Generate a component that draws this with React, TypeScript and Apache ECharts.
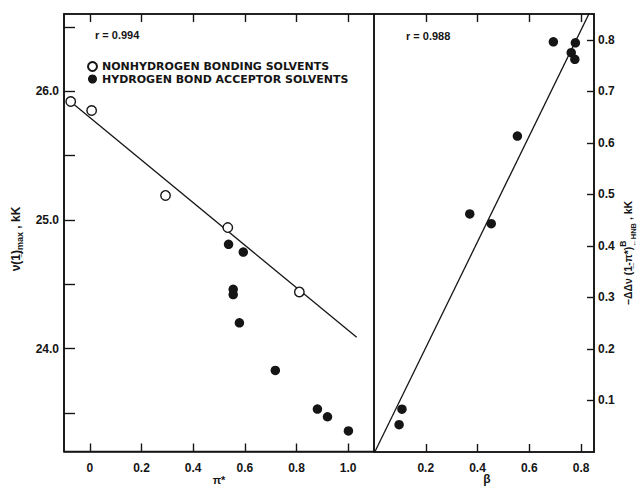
import React, { useEffect, useRef } from "react";
import * as echarts from "echarts";

// ---- data ----
const piTicks = [0, 0.2, 0.4, 0.6, 0.8, 1.0];
const nuMinorTicks = [23.5, 24.0, 24.5, 25.0, 25.5, 26.0, 26.5];
const nuLabels = [24.0, 25.0, 26.0];
const betaTicks = [0.2, 0.4, 0.6, 0.8];
const deltaTicks = [0.1, 0.2, 0.3, 0.4, 0.5, 0.6, 0.7, 0.8];

const nonHBondPi = [-0.074, 0.007, 0.293, 0.534, 0.811];
const nonHBondNu = [25.92, 25.85, 25.19, 24.94, 24.44];

const hbaPi = [0.537, 0.594, 0.555, 0.555, 0.579, 0.718, 0.881, 0.92, 1.001];
const hbaNu = [24.81, 24.75, 24.46, 24.42, 24.2, 23.83, 23.53, 23.47, 23.36];

const fitPi = [-0.06, 1.033];
const fitNu = [25.895, 24.087];

const hbaBeta = [0.693, 0.778, 0.762, 0.776, 0.554, 0.37, 0.453, 0.108, 0.097];
const hbaDelta = [0.796, 0.794, 0.775, 0.762, 0.613, 0.462, 0.443, 0.083, 0.053];

const fitBeta = [0.003, 0.835];
const fitDelta = [0.0, 0.855];

const legendNames = ["NONHYDROGEN BONDING SOLVENTS", "HYDROGEN BOND ACCEPTOR SOLVENTS"];

const INK = "#151515";
const NUM_FONT = "Liberation Sans";

function zip(a: number[], b: number[]) {
  return a.map((v, i) => [v, b[i]]);
}

function measure(text: string, size: number) {
  const ctx = document.createElement("canvas").getContext("2d") as CanvasRenderingContext2D;
  ctx.font = `bold ${size}px "${NUM_FONT}"`;
  return ctx.measureText(text).width;
}

type Part = { t: string; size: number; dy: number };

function rotatedName(cx: number, cy: number, parts: Part[]) {
  const widths = parts.map((p) => measure(p.t, p.size));
  const xs: number[] = [];
  let x = 0;
  let total = 0;
  for (let i = 0; i < parts.length; i++) {
    const p = parts[i];
    const prev = parts[i - 1];
    if (prev && prev.dy < 0 && p.dy > 0) {
      xs.push(xs[i - 1]);
      x = xs[i - 1] + Math.max(widths[i], widths[i - 1]);
    } else {
      xs.push(x);
      x += widths[i];
    }
    total = Math.max(total, x);
  }
  return {
    type: "group",
    x: cx,
    y: cy,
    rotation: Math.PI / 2,
    children: parts.map((p, i) => ({
      type: "text",
      x: xs[i] - total / 2,
      y: p.dy,
      style: {
        text: p.t,
        font: `bold ${p.size}px "${NUM_FONT}"`,
        fill: INK,
        align: "left",
        verticalAlign: "middle",
      },
    })),
  };
}

const tickLabelStyle = {
  color: INK,
  fontFamily: NUM_FONT,
  fontWeight: "bold" as const,
  fontSize: 12,
};

export default function App() {
  const ref = useRef<HTMLDivElement>(null);
  useEffect(() => {
    if (!ref.current) return;
    const chart = echarts.init(ref.current, undefined, { renderer: "svg" });
    const axisLine = { show: true, onZero: false, lineStyle: { color: INK, width: 1.6 } };
    const tickLine = { color: INK, width: 1.4 };
    const option: any = {
      animation: false,
      backgroundColor: "#fff",
      grid: [
        { left: 64, top: 14, width: 310, height: 443, show: true, borderColor: INK, borderWidth: 1.6 },
        { left: 374, top: 14, width: 220, height: 443, show: true, borderColor: INK, borderWidth: 1.6 },
      ],
      xAxis: [
        {
          gridIndex: 0,
          type: "value",
          min: -0.1,
          max: 1.1,
          position: "bottom",
          axisLine,
          splitLine: { show: false },
          axisTick: { show: true, inside: true, length: 8, customValues: piTicks, lineStyle: tickLine },
          axisLabel: {
            ...tickLabelStyle,
            margin: 10,
            customValues: piTicks,
            formatter: (v: number) => (v === 0 ? "0" : v.toFixed(1)),
          },
          name: "π*",
          nameLocation: "middle",
          nameGap: 28,
          nameMoveOverlap: false,
          nameTextStyle: { color: INK, fontFamily: NUM_FONT, fontWeight: "bold", fontSize: 11, verticalAlign: "middle" },
        },
        {
          gridIndex: 0,
          type: "value",
          min: -0.1,
          max: 1.1,
          position: "top",
          axisLine,
          splitLine: { show: false },
          axisTick: { show: true, inside: true, length: 8, customValues: piTicks, lineStyle: tickLine },
          axisLabel: { show: false },
        },
        {
          gridIndex: 1,
          type: "value",
          min: 0,
          max: 0.85,
          position: "bottom",
          axisLine,
          splitLine: { show: false },
          axisTick: { show: true, inside: true, length: 8, customValues: betaTicks, lineStyle: tickLine },
          axisLabel: {
            ...tickLabelStyle,
            margin: 10,
            customValues: betaTicks,
            formatter: (v: number) => v.toFixed(1),
          },
          name: "β",
          nameLocation: "middle",
          nameGap: 27,
          nameMoveOverlap: false,
          nameTextStyle: {
            color: INK,
            fontFamily: NUM_FONT,
            fontWeight: "bold",
            fontSize: 12,
            verticalAlign: "middle",
            padding: [0, 0, 0, 6],
          },
        },
        {
          gridIndex: 1,
          type: "value",
          min: 0,
          max: 0.85,
          position: "top",
          axisLine,
          splitLine: { show: false },
          axisTick: { show: true, inside: true, length: 8, customValues: betaTicks, lineStyle: tickLine },
          axisLabel: { show: false },
        },
      ],
      yAxis: [
        {
          gridIndex: 0,
          type: "value",
          min: 23.2,
          max: 26.6,
          position: "left",
          axisLine,
          splitLine: { show: false },
          axisTick: { show: true, inside: true, length: 11, customValues: nuMinorTicks, lineStyle: tickLine },
          axisLabel: {
            ...tickLabelStyle,
            margin: 5,
            customValues: nuLabels,
            formatter: (v: number) => v.toFixed(1),
          },
        },
        {
          gridIndex: 1,
          type: "value",
          min: 0,
          max: 0.85,
          position: "right",
          axisLine,
          splitLine: { show: false },
          axisTick: { show: true, inside: true, length: 7, customValues: deltaTicks, lineStyle: tickLine },
          axisLabel: {
            ...tickLabelStyle,
            margin: 4,
            customValues: deltaTicks,
            formatter: (v: number) => v.toFixed(1),
          },
        },
      ],
      legend: {
        orient: "vertical",
        left: 82,
        top: 56,
        icon: "circle",
        itemWidth: 9,
        itemHeight: 9,
        itemGap: 1.5,
        data: legendNames,
        selectedMode: false,
        textStyle: {
          color: INK,
          fontFamily: "DejaVu Sans",
          fontWeight: "bold",
          fontSize: 11,
          lineHeight: 10,
        },
      },
      series: [
        {
          type: "line",
          xAxisIndex: 0,
          yAxisIndex: 0,
          data: zip(fitPi, fitNu),
          symbol: "none",
          lineStyle: { color: INK, width: 1.3 },
          z: 2,
          silent: true,
        },
        {
          name: legendNames[0],
          type: "scatter",
          xAxisIndex: 0,
          yAxisIndex: 0,
          data: zip(nonHBondPi, nonHBondNu),
          symbol: "circle",
          symbolSize: 9.5,
          itemStyle: { color: "#fff", borderColor: INK, borderWidth: 1.4, opacity: 1 },
          z: 3,
        },
        {
          name: legendNames[1],
          type: "scatter",
          xAxisIndex: 0,
          yAxisIndex: 0,
          data: zip(hbaPi, hbaNu),
          symbol: "circle",
          symbolSize: 9.5,
          itemStyle: { color: INK, opacity: 1 },
          z: 3,
        },
        {
          type: "line",
          xAxisIndex: 2,
          yAxisIndex: 1,
          data: zip(fitBeta, fitDelta),
          symbol: "none",
          lineStyle: { color: INK, width: 1.3 },
          z: 2,
          silent: true,
        },
        {
          name: legendNames[1],
          type: "scatter",
          xAxisIndex: 2,
          yAxisIndex: 1,
          data: zip(hbaBeta, hbaDelta),
          symbol: "circle",
          symbolSize: 9.5,
          itemStyle: { color: INK, opacity: 1 },
          z: 3,
        },
      ],
      graphic: [
        {
          type: "text",
          x: 95,
          y: 35,
          style: { text: "r = 0.994", font: `bold 11px "${NUM_FONT}"`, fill: INK, verticalAlign: "middle" },
        },
        {
          type: "text",
          x: 406,
          y: 36,
          style: { text: "r = 0.988", font: `bold 11px "${NUM_FONT}"`, fill: INK, verticalAlign: "middle" },
        },
        rotatedName(16, 239, [
          { t: "ν(1\u0332)", size: 12, dy: 0 },
          { t: "max", size: 9, dy: 4 },
          { t: " , kK", size: 12, dy: 0 },
        ]),
        rotatedName(628, 253, [
          { t: "−ΔΔν (1\u0332-π*)", size: 10.5, dy: 0 },
          { t: "B", size: 8.5, dy: -5 },
          { t: "←HNB", size: 7.5, dy: 5 },
          { t: " , kK", size: 10.5, dy: 0 },
        ]),
      ],
    };
    chart.setOption(option);
    return () => chart.dispose();
  }, []);
  return (
    <div
      ref={ref}
      style={{ position: "fixed", left: 0, top: 0, width: 643, height: 490, background: "#fff" }}
    />
  );
}
